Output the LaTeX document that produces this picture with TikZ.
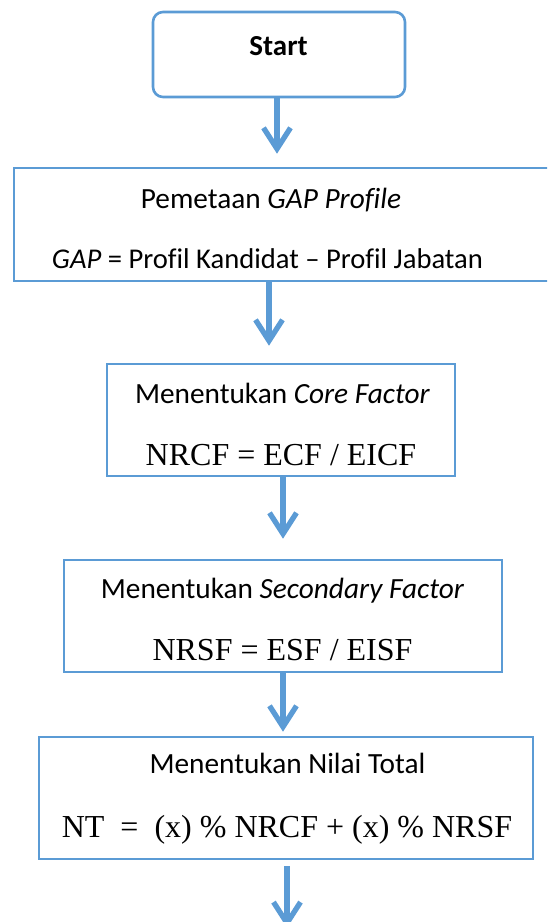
\documentclass[tikz,border=0pt]{standalone}
\usepackage{fontspec}
\setmainfont{Carlito}[Ligatures=CommonOff]
\newfontfamily\tnr{Liberation Serif}
\usetikzlibrary{arrows.meta,calc}
\definecolor{boxblue}{HTML}{5B9BD5}
\begin{document}
\begin{tikzpicture}[x=1pt,y=-1pt,
  box/.style={draw=boxblue, line width=2.6pt, inner sep=0pt, rectangle},
  flowarrow/.style={draw=boxblue, line width=5.3pt, -{Straight Barb[length=21pt,width=27pt]}},
  sanstext/.style={anchor=base, inner sep=0pt, font=\fontsize{29.3}{35}\selectfont},
  serftext/.style={anchor=base, inner sep=0pt, font=\tnr\fontsize{32}{38}\selectfont}]
\useasboundingbox (0,0) rectangle (547,922);
\clip (0,0) rectangle (547,922);
% boxes
\node[box, rounded corners=10pt, minimum width=252pt, minimum height=85pt] (b1) at (279,54.5) {};
\node[box, minimum width=536pt, minimum height=113pt] (b2) at (282,224.5) {};
\node[box, minimum width=348pt, minimum height=112pt] (b3) at (281,420) {};
\node[box, minimum width=438pt, minimum height=112pt] (b4) at (283,616) {};
\node[box, minimum width=494pt, minimum height=122pt] (b5) at (286,798) {};
% texts
\node[sanstext, font=\bfseries\fontsize{29}{35}\selectfont] (t1) at (278.5,55) {Start};
\node[sanstext] (t2a) at (271,208) {Pemetaan \textit{GAP Profile}};
\node[sanstext, font=\fontsize{28.6}{35}\selectfont] (t2b) at (267.5,268) {\textit{GAP} = Profil Kandidat -- Profil Jabatan};
\node[sanstext] (t3a) at (282.5,403) {Menentukan \textit{Core Factor}};
\node[serftext] (t3b) at (281,465) {NRCF = ECF / EICF};
\node[sanstext] (t4a) at (282.5,598) {Menentukan \textit{Secondary Factor}};
\node[serftext] (t4b) at (282.5,660) {NRSF = ESF / EISF};
\node[sanstext] (t5a) at (287.5,773) {Menentukan Nilai Total};
\node[serftext] (t5b) at (287,837) {NT\ \ =\ \ (x) \% NRCF + (x) \% NRSF};
% arrows
\coordinate (endpt) at (287,928);
\draw[flowarrow] ([xshift=-2pt]b1.south) -- ([xshift=-2pt,yshift=13pt]b1.south |- b2.north);
\draw[flowarrow] ([xshift=-13pt]b2.south) -- ([xshift=-13pt,yshift=17pt]b2.south |- b3.north);
\draw[flowarrow] ([xshift=2pt]b3.south) -- ([xshift=2pt,yshift=20pt]b3.south |- b4.north);
\draw[flowarrow] (b4.south) -- ([yshift=4pt]b4.south |- b5.north);
\draw[flowarrow] ([xshift=1pt,yshift=-6pt]b5.south) -- (endpt);
\end{tikzpicture}
\end{document}
